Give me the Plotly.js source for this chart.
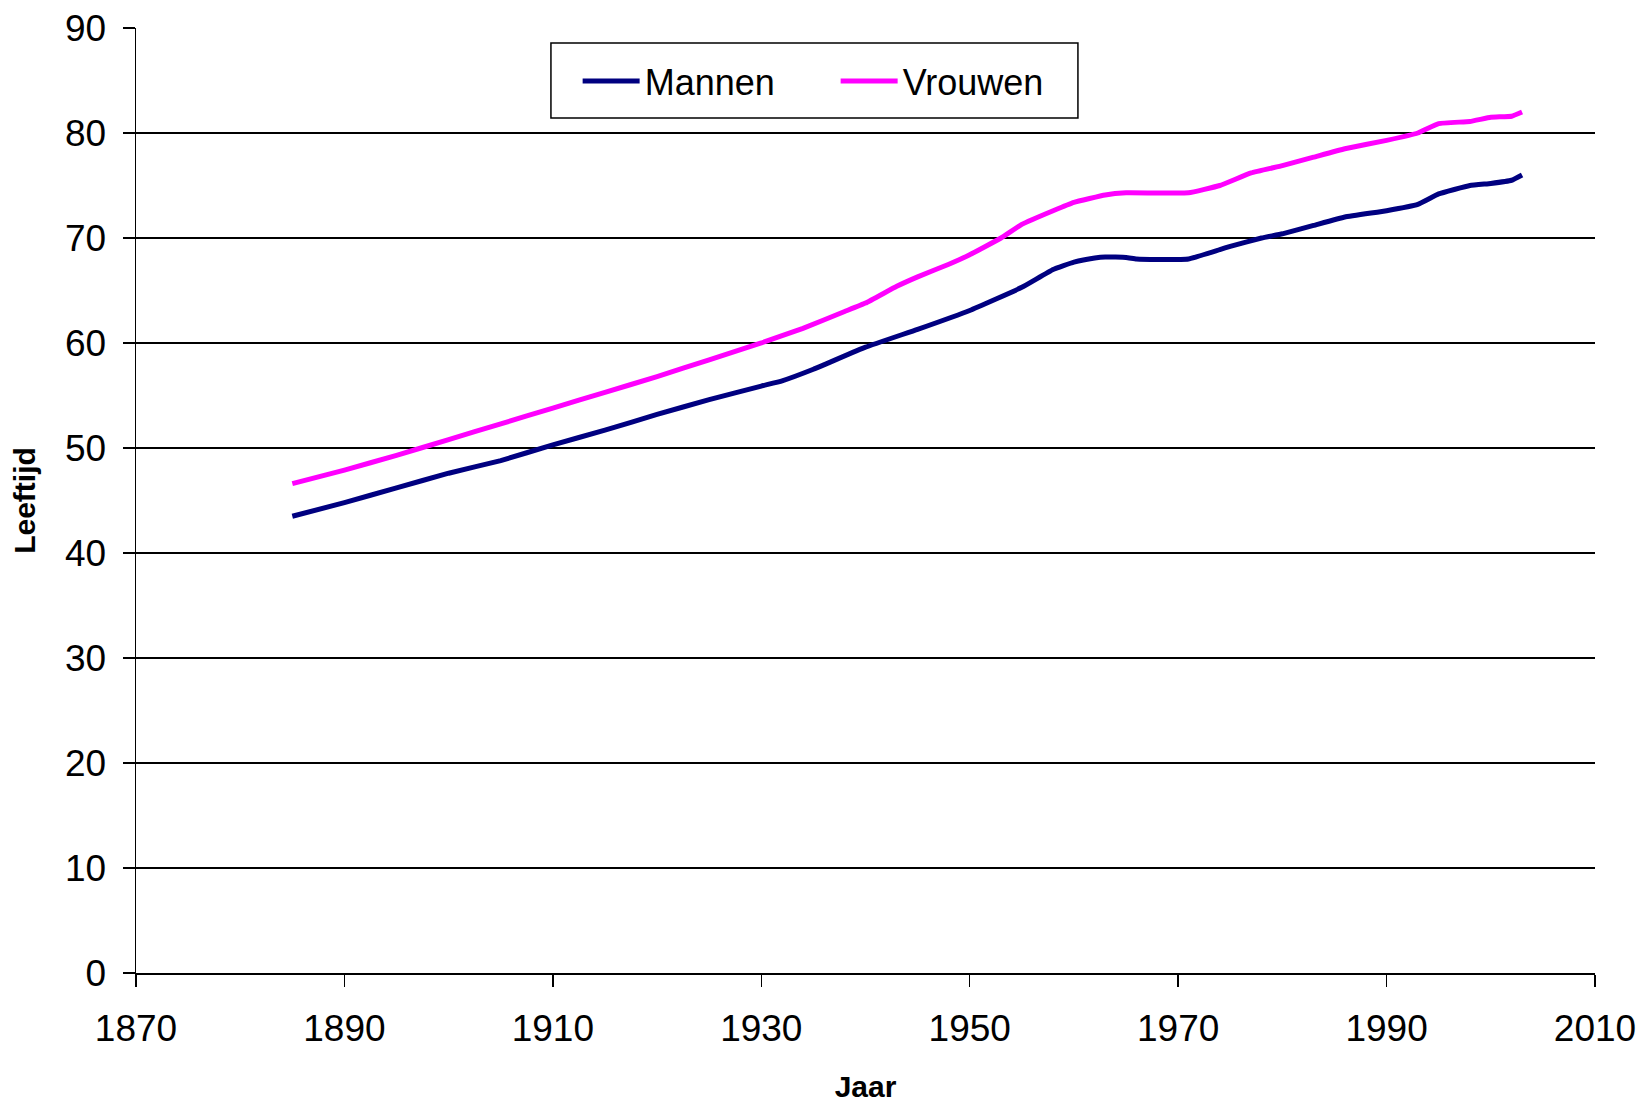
<!DOCTYPE html>
<html>
<head>
<meta charset="utf-8">
<script src="https://cdn.plot.ly/plotly-3.0.1.min.js"></script>
<style>html,body{margin:0;padding:0;background:#fff;}#chart{width:1643px;height:1103px;}</style>
</head>
<body>
<div id="chart"></div>
<script>
const mannenYears = [1885,1890,1895,1900,1905,1910,1915,1920,1925,1930,1932,1935,1940,1945,1950,1955,1958,1960,1962,1963,1965,1966,1968,1971,1974,1975,1978,1980,1983,1986,1990,1993,1995,1998,2000,2002,2003];
const mannenValues = [43.5,44.8,46.2,47.6,48.8,50.3,51.7,53.2,54.6,55.9,56.4,57.5,59.6,61.3,63.1,65.3,67.0,67.7,68.1,68.2,68.15,68.0,67.95,68.0,68.9,69.2,70.0,70.4,71.2,72.0,72.6,73.2,74.2,75.0,75.2,75.5,76.0];

const vrouwenYears = [1885,1890,1895,1900,1905,1910,1915,1920,1925,1930,1934,1938,1940,1943,1945,1948,1950,1953,1955,1958,1960,1963,1965,1971,1974,1977,1980,1983,1986,1990,1993,1995,1998,2000,2002,2003];
const vrouwenValues = [46.6,47.9,49.3,50.8,52.3,53.8,55.3,56.8,58.4,60.0,61.4,63.0,63.8,65.4,66.3,67.5,68.4,70.0,71.3,72.6,73.4,74.1,74.3,74.3,75.0,76.2,76.9,77.7,78.5,79.3,80.0,80.9,81.1,81.5,81.6,82.0];

const seriesNames = ["Mannen","Vrouwen"];
const xTitle = "Jaar";
const yTitle = "Leeftijd";

const traces = [
  {x: mannenYears, y: mannenValues, name: seriesNames[0], type: "scatter", mode: "lines",
   line: {color: "#000080", width: 5, shape: "spline", smoothing: 0.3}},
  {x: vrouwenYears, y: vrouwenValues, name: seriesNames[1], type: "scatter", mode: "lines",
   line: {color: "#FF00FF", width: 5, shape: "spline", smoothing: 0.3}}
];

const fontFam = "Liberation Sans, Arial, sans-serif";
const layout = {
  width: 1643, height: 1103,
  margin: {l: 136, r: 48, t: 28, b: 130},
  paper_bgcolor: "#fff", plot_bgcolor: "#fff",
  font: {family: fontFam, size: 36, color: "#000"},
  showlegend: true,
  legend: {
    orientation: "h", x: 0.3027, y: 0.9755, xanchor: "left", yanchor: "top",
    borderwidth: 0, bgcolor: "rgba(0,0,0,0)",
    font: {family: fontFam, size: 36, color: "#000"},
    entrywidth: 186, entrywidthmode: "pixels", itemwidth: 57
  },
  shapes: [{
    type: "rect", xref: "paper", yref: "paper",
    x0: 0.2844, x1: 0.6456, y0: 0.9048, y1: 0.9841,
    line: {color: "#000", width: 1.5}, fillcolor: "#fff", layer: "above"
  }],
  xaxis: {
    range: [1870, 2010], dtick: 20, tick0: 1870,
    showgrid: false, zeroline: false,
    showline: true, linecolor: "#000", linewidth: 2,
    ticks: "outside", ticklen: 12, tickwidth: 1.5, tickcolor: "#000",
    tickfont: {family: fontFam, size: 37, color: "#000"},
    ticklabelstandoff: 10,
    title: {text: xTitle, font: {family: fontFam, size: 30, color: "#000", weight: "bold"}, standoff: 28}
  },
  yaxis: {
    range: [0, 90], dtick: 10, tick0: 0,
    showgrid: true, gridcolor: "#000", gridwidth: 1.5,
    zeroline: false,
    showline: true, linecolor: "#000", linewidth: 1.5,
    ticks: "outside", ticklen: 12, tickwidth: 1.5, tickcolor: "#000",
    tickfont: {family: fontFam, size: 37, color: "#000"},
    ticklabelstandoff: 9,
    title: {text: yTitle, font: {family: fontFam, size: 30, color: "#000", weight: "bold"}, standoff: 20}
  }
};

Plotly.newPlot("chart", traces, layout, {displayModeBar: false, staticPlot: true});
</script>
</body>
</html>
